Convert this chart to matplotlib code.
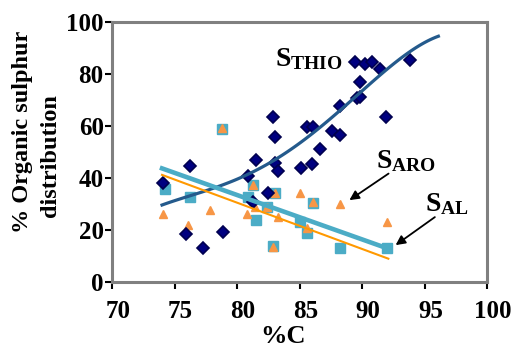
import matplotlib
matplotlib.use('Agg')
import matplotlib.pyplot as plt
import matplotlib.transforms as mtransforms
import numpy as np

plt.rcParams['font.family'] = 'Liberation Serif'
plt.rcParams['font.weight'] = 'bold'
plt.rcParams['mathtext.fontset'] = 'custom'
plt.rcParams['mathtext.bf'] = 'Liberation Serif:bold'
plt.rcParams['mathtext.rm'] = 'Liberation Serif:bold'

# S thio (diamonds)
thio_c = [74.1, 76.2, 75.9, 77.3, 78.9, 82.9, 83.0, 81.5, 80.9, 83.0, 83.3, 82.5, 81.3,
          85.1, 86.0, 85.6, 86.1, 86.6, 87.6, 88.2, 88.2, 89.6, 89.8, 89.8, 89.4, 90.2,
          90.8, 91.4, 91.9, 93.8]
thio_s = [38.0, 44.6, 18.3, 13.1, 19.1, 63.3, 55.9, 46.8, 40.9, 45.6, 42.8, 34.2, 30.6,
          43.7, 45.5, 59.5, 59.5, 51.3, 58.1, 56.4, 67.7, 70.7, 71.3, 76.8, 84.5, 83.7,
          84.5, 81.8, 63.3, 85.5]

# S aliphatic (squares)
al_c = [74.2, 76.2, 78.8, 80.9, 81.3, 81.5, 82.4, 83.0, 82.9, 85.0, 85.6, 86.1, 88.2, 92.0]
al_s = [35.6, 32.6, 58.7, 32.7, 37.3, 23.8, 29.0, 34.1, 14.0, 23.2, 18.7, 30.5, 13.0, 13.0]

# S aromatic (triangles)
aro_c = [74.1, 76.1, 77.8, 78.8, 80.8, 81.3, 81.4, 82.4, 83.0, 83.3, 82.9, 85.0, 85.6,
         86.1, 88.2, 92.0]
aro_s = [26.0, 21.9, 27.9, 59.3, 26.0, 37.3, 29.0, 29.0, 34.1, 25.1, 13.6, 34.1, 20.6,
         30.9, 29.9, 23.1]

# trend lines
thio_trend_c = [74.0, 77.6, 80.9, 84.1, 86.9, 89.8, 92.8, 94.4, 96.1]
thio_trend_s = [29.6, 35.4, 41.2, 50.6, 60.4, 72.6, 85.0, 90.3, 94.5]
al_trend_c = [74.0, 92.0]
al_trend_s = [43.7, 13.0]
aro_trend_c = [74.0, 92.1]
aro_trend_s = [41.2, 9.0]

fig = plt.figure(figsize=(5.21, 3.47), dpi=100)
ax = fig.add_axes([0.215, 0.187, 0.72, 0.75])

ax.plot(al_c, al_s, 's', color='#4BACC6', markersize=7.5, markeredgecolor='#4BACC6', zorder=3)
ax.plot(aro_c, aro_s, '^', color='#F79646', markersize=6, markeredgecolor='#F79646', zorder=4)
ax.plot(thio_c, thio_s, 'D', color='#000080', markersize=6, markeredgecolor='#000050',
        markeredgewidth=1.2, zorder=5)

# smooth trend for S thio through the read curve
coef = np.polyfit(np.array(thio_trend_c) - 85, thio_trend_s, 4)
xx = np.linspace(thio_trend_c[0], thio_trend_c[-1], 100)
ax.plot(xx, np.polyval(coef, xx - 85), color='#245A8C', lw=2.3, zorder=6)
ax.plot(al_trend_c, al_trend_s, color='#4BACC6', lw=3.3, zorder=6)
ax.plot(aro_trend_c, aro_trend_s, color='#FF9900', lw=1.5, zorder=6)

# labels of the three series
ax.text(85.7, 85.5, r'$\mathbf{S_{THIO}}$', fontsize=20, ha='center', va='center')
ax.text(93.5, 46.5, r'$\mathbf{S_{ARO}}$', fontsize=20, ha='center', va='center')
ax.annotate('', xy=(88.8, 30.9), xytext=(92.3, 42.3),
            arrowprops=dict(arrowstyle='-|>', color='black', lw=1.3, mutation_scale=14))
ax.text(96.8, 30.0, r'$\mathbf{S_{AL}}$', fontsize=20, ha='center', va='center')
ax.annotate('', xy=(92.5, 13.6), xytext=(96.0, 25.6),
            arrowprops=dict(arrowstyle='-|>', color='black', lw=1.3, mutation_scale=14))

ax.set_xlim(70, 100)
ax.set_ylim(0, 100)
ax.set_xticks(np.arange(70, 101, 5))
ax.set_yticks(np.arange(0, 101, 20))
ax.tick_params(direction='out', length=5, width=1.5, labelsize=18)
ax.tick_params(axis='x', pad=8)
ax.tick_params(axis='y', pad=1)
shift = mtransforms.ScaledTranslation(6 / 100, 0, fig.dpi_scale_trans)
for lab in ax.get_xticklabels():
    lab.set_fontweight('bold')
    lab.set_transform(lab.get_transform() + shift)
for lab in ax.get_yticklabels():
    lab.set_fontweight('bold')
for sp in ax.spines.values():
    sp.set_color('#808080')
    sp.set_linewidth(2.2)

fig.text(0.543, 0.03, '%C', fontsize=19, fontweight='bold', ha='center', va='center')
fig.text(0.044, 0.62, '% Organic sulphur', rotation=90, fontsize=17.5, fontweight='bold',
         ha='center', va='center')
fig.text(0.096, 0.553, 'distribution', rotation=90, fontsize=17.5, fontweight='bold',
         ha='center', va='center')

fig.savefig('out.png', dpi=100)
